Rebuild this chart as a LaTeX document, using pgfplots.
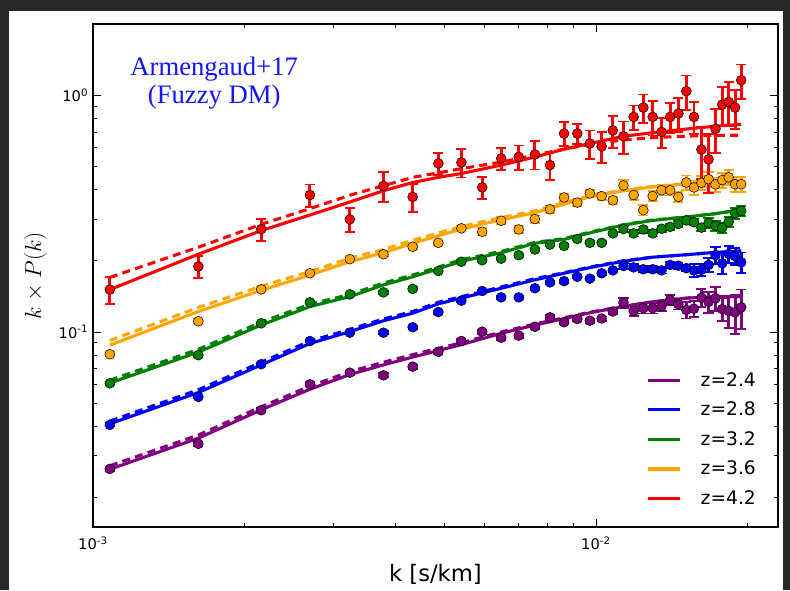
\documentclass[border=0pt]{standalone}
\usepackage{pgfplots}
\pgfplotsset{compat=1.18}
\usepackage{pgfplotstable}
\usepackage{fontspec}
\setmainfont{DejaVu Sans}
\newfontfamily\annfont{Liberation Serif}
\definecolor{mred}{HTML}{FF0000}
\definecolor{morange}{HTML}{FFA500}
\definecolor{mgreen}{HTML}{008000}
\definecolor{mblue}{HTML}{0000FF}
\definecolor{mpurple}{HTML}{800080}
\definecolor{annblue}{RGB}{20,20,245}
\definecolor{bgdark}{RGB}{40,40,40}

% data points: k, value, relative error
\pgfplotstableread{
k y e
0.00108 0.151 0.13
0.00162 0.189 0.107
0.00216 0.272 0.107
0.00270 0.379 0.107
0.00324 0.299 0.117
0.00378 0.414 0.146
0.00432 0.372 0.136
0.00486 0.515 0.107
0.00540 0.520 0.136
0.00594 0.408 0.107
0.00648 0.541 0.107
0.00702 0.549 0.117
0.00756 0.562 0.136
0.00810 0.507 0.136
0.00864 0.689 0.117
0.00918 0.689 0.097
0.00972 0.625 0.136
0.01026 0.608 0.146
0.01080 0.710 0.155
0.01134 0.671 0.155
0.01188 0.810 0.117
0.01242 0.887 0.136
0.01296 0.810 0.165
0.01350 0.700 0.146
0.01404 0.810 0.146
0.01458 0.837 0.165
0.01512 1.040 0.165
0.01566 0.810 0.155
0.01620 0.590 0.25
0.01674 0.536 0.28
0.01728 0.721 0.21
0.01782 0.913 0.185
0.01836 0.937 0.21
0.01890 0.887 0.185
0.01944 1.157 0.165
}\datared
\pgfplotstableread{
k y e
0.00108 0.0805 0.02
0.00162 0.111 0.02
0.00216 0.1514 0.02
0.00270 0.177 0.02
0.00324 0.203 0.02
0.00378 0.213 0.02
0.00432 0.229 0.02
0.00486 0.238 0.02
0.00540 0.274 0.02
0.00594 0.265 0.035
0.00648 0.295 0.035
0.00702 0.271 0.035
0.00756 0.300 0.035
0.00810 0.330 0.035
0.00864 0.370 0.035
0.00918 0.352 0.035
0.00972 0.385 0.035
0.01026 0.375 0.035
0.01080 0.360 0.035
0.01134 0.416 0.05
0.01188 0.379 0.05
0.01242 0.327 0.05
0.01296 0.375 0.05
0.01350 0.397 0.05
0.01404 0.397 0.05
0.01458 0.372 0.05
0.01512 0.428 0.07
0.01566 0.408 0.07
0.01620 0.427 0.07
0.01674 0.442 0.07
0.01728 0.420 0.07
0.01782 0.438 0.07
0.01836 0.450 0.07
0.01890 0.421 0.07
0.01944 0.421 0.07
}\dataorange
\pgfplotstableread{
k y e
0.00108 0.0607 0.015
0.00162 0.0798 0.015
0.00216 0.1088 0.015
0.00270 0.1334 0.015
0.00324 0.1442 0.015
0.00378 0.147 0.015
0.00432 0.152 0.015
0.00486 0.181 0.015
0.00540 0.198 0.015
0.00594 0.201 0.015
0.00648 0.204 0.015
0.00702 0.211 0.015
0.00756 0.223 0.015
0.00810 0.234 0.015
0.00864 0.231 0.015
0.00918 0.247 0.015
0.00972 0.238 0.015
0.01026 0.238 0.015
0.01080 0.261 0.015
0.01134 0.272 0.03
0.01188 0.261 0.03
0.01242 0.271 0.03
0.01296 0.261 0.03
0.01350 0.273 0.03
0.01404 0.278 0.03
0.01458 0.286 0.03
0.01512 0.296 0.03
0.01566 0.291 0.03
0.01620 0.276 0.03
0.01674 0.289 0.05
0.01728 0.281 0.05
0.01782 0.276 0.05
0.01836 0.292 0.05
0.01890 0.317 0.05
0.01944 0.325 0.05
}\datagreen
\pgfplotstableread{
k y e
0.00108 0.0405 0.015
0.00162 0.0532 0.015
0.00216 0.0731 0.015
0.00270 0.0916 0.015
0.00324 0.0993 0.015
0.00378 0.0993 0.015
0.00432 0.1047 0.015
0.00486 0.1214 0.015
0.00540 0.1356 0.015
0.00594 0.149 0.015
0.00648 0.140 0.015
0.00702 0.140 0.015
0.00756 0.153 0.015
0.00810 0.162 0.015
0.00864 0.164 0.015
0.00918 0.171 0.015
0.00972 0.168 0.015
0.01026 0.177 0.015
0.01080 0.182 0.015
0.01134 0.190 0.03
0.01188 0.1875 0.03
0.01242 0.184 0.03
0.01296 0.184 0.03
0.01350 0.182 0.03
0.01404 0.192 0.03
0.01458 0.1905 0.03
0.01512 0.186 0.03
0.01566 0.182 0.06
0.01620 0.183 0.06
0.01674 0.192 0.07
0.01728 0.211 0.08
0.01782 0.195 0.10
0.01836 0.2134 0.08
0.01890 0.209 0.08
0.01944 0.197 0.10
}\datablue
\pgfplotstableread{
k y e
0.00108 0.0264 0.02
0.00162 0.0337 0.02
0.00216 0.0467 0.02
0.00270 0.0601 0.02
0.00324 0.0673 0.02
0.00378 0.0656 0.02
0.00432 0.0714 0.02
0.00486 0.0824 0.02
0.00540 0.0916 0.02
0.00594 0.1003 0.02
0.00648 0.0946 0.02
0.00702 0.0965 0.02
0.00756 0.1052 0.02
0.00810 0.1153 0.02
0.00864 0.1099 0.02
0.00918 0.1135 0.02
0.00972 0.1116 0.02
0.01026 0.114 0.02
0.01080 0.122 0.02
0.01134 0.133 0.05
0.01188 0.1227 0.05
0.01242 0.126 0.05
0.01296 0.126 0.05
0.01350 0.1288 0.05
0.01404 0.1364 0.05
0.01458 0.131 0.05
0.01512 0.1239 0.08
0.01566 0.1254 0.08
0.01620 0.1396 0.09
0.01674 0.134 0.10
0.01728 0.1388 0.12
0.01782 0.125 0.11
0.01836 0.1227 0.15
0.01890 0.121 0.19
0.01944 0.127 0.19
}\datapurple

% model curves: k, solid, dashed
\pgfplotstableread{
k s d
0.00108 0.151 0.170
0.00162 0.213 0.228
0.00216 0.268 0.285
0.00270 0.312 0.332
0.00324 0.354 0.378
0.00378 0.395 0.415
0.00432 0.428 0.450
0.00486 0.450 0.470
0.00540 0.467 0.490
0.00648 0.507 0.522
0.00756 0.548 0.558
0.00864 0.592 0.592
0.00972 0.625 0.620
0.01134 0.671 0.648
0.01296 0.695 0.662
0.01512 0.720 0.672
0.01728 0.740 0.677
0.01944 0.754 0.678
}\linered
\pgfplotstableread{
k s d
0.00108 0.088 0.092
0.00162 0.122 0.127
0.00216 0.150 0.156
0.00270 0.174 0.180
0.00324 0.198 0.205
0.00378 0.216 0.223
0.00432 0.237 0.244
0.00486 0.255 0.262
0.00540 0.272 0.279
0.00648 0.298 0.304
0.00756 0.319 0.325
0.00864 0.347 0.352
0.00972 0.372 0.376
0.01134 0.395 0.398
0.01296 0.410 0.412
0.01512 0.422 0.423
0.01728 0.431 0.431
0.01944 0.434 0.434
}\lineorange
\pgfplotstableread{
k s d
0.00108 0.0608 0.0625
0.00162 0.0822 0.0845
0.00216 0.107 0.110
0.00270 0.128 0.131
0.00324 0.141 0.144
0.00378 0.158 0.161
0.00432 0.171 0.174
0.00486 0.185 0.188
0.00540 0.199 0.202
0.00648 0.216 0.219
0.00756 0.237 0.239
0.00864 0.246 0.248
0.00972 0.262 0.264
0.01134 0.283 0.284
0.01296 0.296 0.297
0.01512 0.306 0.306
0.01728 0.316 0.316
0.01944 0.329 0.328
}\linegreen
\pgfplotstableread{
k s d
0.00108 0.0409 0.0420
0.00162 0.0555 0.0570
0.00216 0.0726 0.0745
0.00270 0.0894 0.0915
0.00324 0.1003 0.1025
0.00378 0.1115 0.1135
0.00432 0.1200 0.1220
0.00486 0.1315 0.1335
0.00540 0.139 0.141
0.00648 0.153 0.155
0.00756 0.166 0.168
0.00864 0.177 0.178
0.00972 0.187 0.188
0.01134 0.199 0.200
0.01296 0.207 0.207
0.01512 0.212 0.212
0.01728 0.217 0.217
0.01944 0.220 0.220
}\lineblue
\pgfplotstableread{
k s d
0.00108 0.0263 0.0272
0.00162 0.0356 0.0367
0.00216 0.0469 0.0483
0.00270 0.0573 0.0590
0.00324 0.0661 0.0680
0.00378 0.0726 0.0745
0.00432 0.0783 0.0802
0.00486 0.0835 0.0853
0.00540 0.0884 0.0900
0.00648 0.0987 0.1000
0.00756 0.1069 0.1080
0.00864 0.1139 0.1148
0.00972 0.1205 0.1212
0.01134 0.128 0.1284
0.01296 0.134 0.1342
0.01512 0.139 0.139
0.01728 0.141 0.141
0.01944 0.141 0.141
}\linepurple

\pgfplotsset{
  dline/.style={line width=2.3pt, dash pattern=on 6pt off 4pt, forget plot},
  sline/.style={line width=2.3pt},
  pts/.style={only marks, mark=*, mark size=3.7pt, forget plot,
    mark options={fill=#1, draw=black, line width=0.4pt},
    error bars/.cd, y dir=both, y explicit relative,
    error bar style={color=#1, line width=2.2pt},
    error mark options={rotate=90, mark size=3.8pt, line width=1.4pt, color=#1}},
}

\begin{document}
\begin{tikzpicture}
\fill[bgdark] (0,0) rectangle (592.5pt,442.5pt);
\fill[white] (6.75pt,0) rectangle (587.25pt,434.25pt);
\begin{axis}[
  at={(69.75pt,47.25pt)}, anchor=south west,
  scale only axis, width=513.75pt, height=377.25pt,
  xmode=log, ymode=log,
  xmin=0.001, xmax=0.023, ymin=0.015, ymax=2,
  xtick={0.001,0.01},
  xticklabels={10\textsuperscript{-3},10\textsuperscript{-2}},
  ytick={0.1,1},
  yticklabels={10\textsuperscript{-1},10\textsuperscript{0}},
  minor xtick={0.002,0.003,0.004,0.005,0.006,0.007,0.008,0.009,0.02},
  minor ytick={0.02,0.03,0.04,0.05,0.06,0.07,0.08,0.09,0.2,0.3,0.4,0.5,0.6,0.7,0.8,0.9},
  major tick length=6pt, minor tick length=3pt,
  tick style={black, line width=0.6pt},
  axis line style={line width=0.9pt},
  ticklabel style={font=\fontsize{11}{13}\selectfont},
  xticklabel style={yshift=-4pt},
  xlabel={k [s/km]},
  xlabel style={font=\fontsize{17}{20}\selectfont, yshift=-4pt},
  ylabel={$k\times P(k)$},
  ylabel style={font=\fontsize{18}{21}\selectfont, yshift=2pt},
  legend style={at={(rel axis cs:0.972,0.035)}, anchor=south east,
    draw=none, fill=none, inner sep=0pt, row sep=6.3pt,
    font=\fontsize{14}{16}\selectfont,
    /tikz/every odd column/.append style={column sep=12pt}},
  legend cell align=left,
  legend image code/.code={\draw[#1, line width=2.4pt, solid] (0pt,0pt) -- (24pt,0pt);},
]
% dashed model curves
\addplot[mpurple, dline] table[x=k, y=d] {\linepurple};
\addplot[mblue, dline] table[x=k, y=d] {\lineblue};
\addplot[mgreen, dline] table[x=k, y=d] {\linegreen};
\addplot[morange, dline] table[x=k, y=d] {\lineorange};
\addplot[mred, dline] table[x=k, y=d] {\linered};
% solid model curves
\addplot[mpurple, sline] table[x=k, y=s] {\linepurple};
\addlegendentry{z=2.4}
\addplot[mblue, sline] table[x=k, y=s] {\lineblue};
\addlegendentry{z=2.8}
\addplot[mgreen, sline] table[x=k, y=s] {\linegreen};
\addlegendentry{z=3.2}
\addplot[morange, sline] table[x=k, y=s] {\lineorange};
\addlegendentry{z=3.6}
\addplot[mred, sline] table[x=k, y=s] {\linered};
\addlegendentry{z=4.2}
% data points
\addplot[pts=mpurple] table[x=k, y=y, y error=e] {\datapurple};
\addplot[pts=mblue] table[x=k, y=y, y error=e] {\datablue};
\addplot[pts=mgreen] table[x=k, y=y, y error=e] {\datagreen};
\addplot[pts=morange] table[x=k, y=y, y error=e] {\dataorange};
\addplot[pts=mred] table[x=k, y=y, y error=e] {\datared};
\node[font=\annfont\fontsize{20}{21}\selectfont, text=annblue, align=center]
  at (rel axis cs:0.177,0.883) {Armengaud+17\\(Fuzzy DM)};
\end{axis}
\pgfresetboundingbox
\useasboundingbox (0,0) rectangle (592.5pt,442.5pt);
\end{tikzpicture}
\end{document}
